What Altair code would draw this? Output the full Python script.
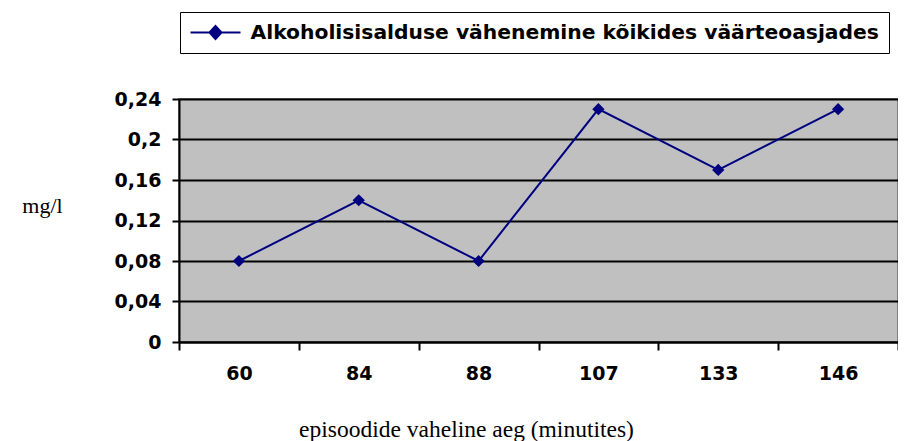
import altair as alt
import pandas as pd

minutes = ["60", "84", "88", "107", "133", "146"]
values = [0.08, 0.14, 0.08, 0.23, 0.17, 0.23]
series_name = "Alkoholisisalduse vähenemine kõikides väärteoasjades"
y_ticks = [0, 0.04, 0.08, 0.12, 0.16, 0.2, 0.24]

df = pd.DataFrame({"aeg": minutes, "mg": values, "seeria": [series_name] * len(minutes)})

NAVY = "#000080"
SANS = "DejaVu Sans"
SERIF = "Liberation Serif"

chart = alt.Chart(df).mark_line(
    color=NAVY, strokeWidth=2,
    point=alt.OverlayMarkDef(shape="diamond", size=150, filled=True, color=NAVY, opacity=1),
).encode(
    x=alt.X("aeg:N", sort=minutes,
            scale=alt.Scale(type="band", paddingInner=0, paddingOuter=0),
            axis=alt.Axis(title="episoodide vaheline aeg (minutites)", labelAngle=0,
                          tickBand="extent", tickSize=8, tickWidth=2, tickColor="black",
                          domainColor="black", domainWidth=2,
                          labelFont=SANS, labelFontSize=19, labelFontWeight="bold", labelColor="black",
                          labelPadding=14,
                          titleFont=SERIF, titleFontSize=23.5, titleFontWeight="normal", titleColor="black",
                          titleX=287, titleY=94, titleAlign="center", titleBaseline="alphabetic",
                          grid=False)),
    y=alt.Y("mg:Q", scale=alt.Scale(domain=[0, 0.24], nice=False, zero=True),
            axis=alt.Axis(title="mg/l", values=y_ticks,
                          labelExpr="replace(format(datum.value, '.2~f'), '.', ',')",
                          tickSize=7, tickWidth=2, tickColor="black",
                          domainColor="black", domainWidth=2,
                          grid=True, gridColor="black", gridWidth=2,
                          labelFont=SANS, labelFontSize=19, labelFontWeight="bold", labelColor="black",
                          labelPadding=11,
                          titleFont=SERIF, titleFontSize=22, titleFontWeight="normal", titleColor="black",
                          titleAngle=0, titleX=-137, titleY=106, titleAlign="center", titleBaseline="middle")),
    color=alt.Color("seeria:N", scale=alt.Scale(range=[NAVY]),
                    legend=alt.Legend(title=None, orient="none", legendX=1, legendY=-87,
                                      padding=9.5, strokeColor="black",
                                      symbolType="M-1,0H1M-0.24,0L0,-0.26L0.24,0L0,0.26Z",
                                      symbolSize=2500, symbolStrokeWidth=2,
                                      symbolFillColor=NAVY, symbolStrokeColor=NAVY,
                                      clipHeight=22, labelOffset=9,
                                      labelFont=SANS, labelFontSize=20.3, labelFontWeight="bold",
                                      labelColor="black", labelLimit=900)),
).properties(
    width=719, height=243,
    autosize=alt.AutoSizeParams(type="none"),
    padding={"left": 171, "top": 91, "right": 0, "bottom": 99},
).configure_view(
    fill="#c0c0c0", stroke="#808080", strokeWidth=2,
)

chart.save("out.html", embed_options={"renderer": "svg", "actions": False})
